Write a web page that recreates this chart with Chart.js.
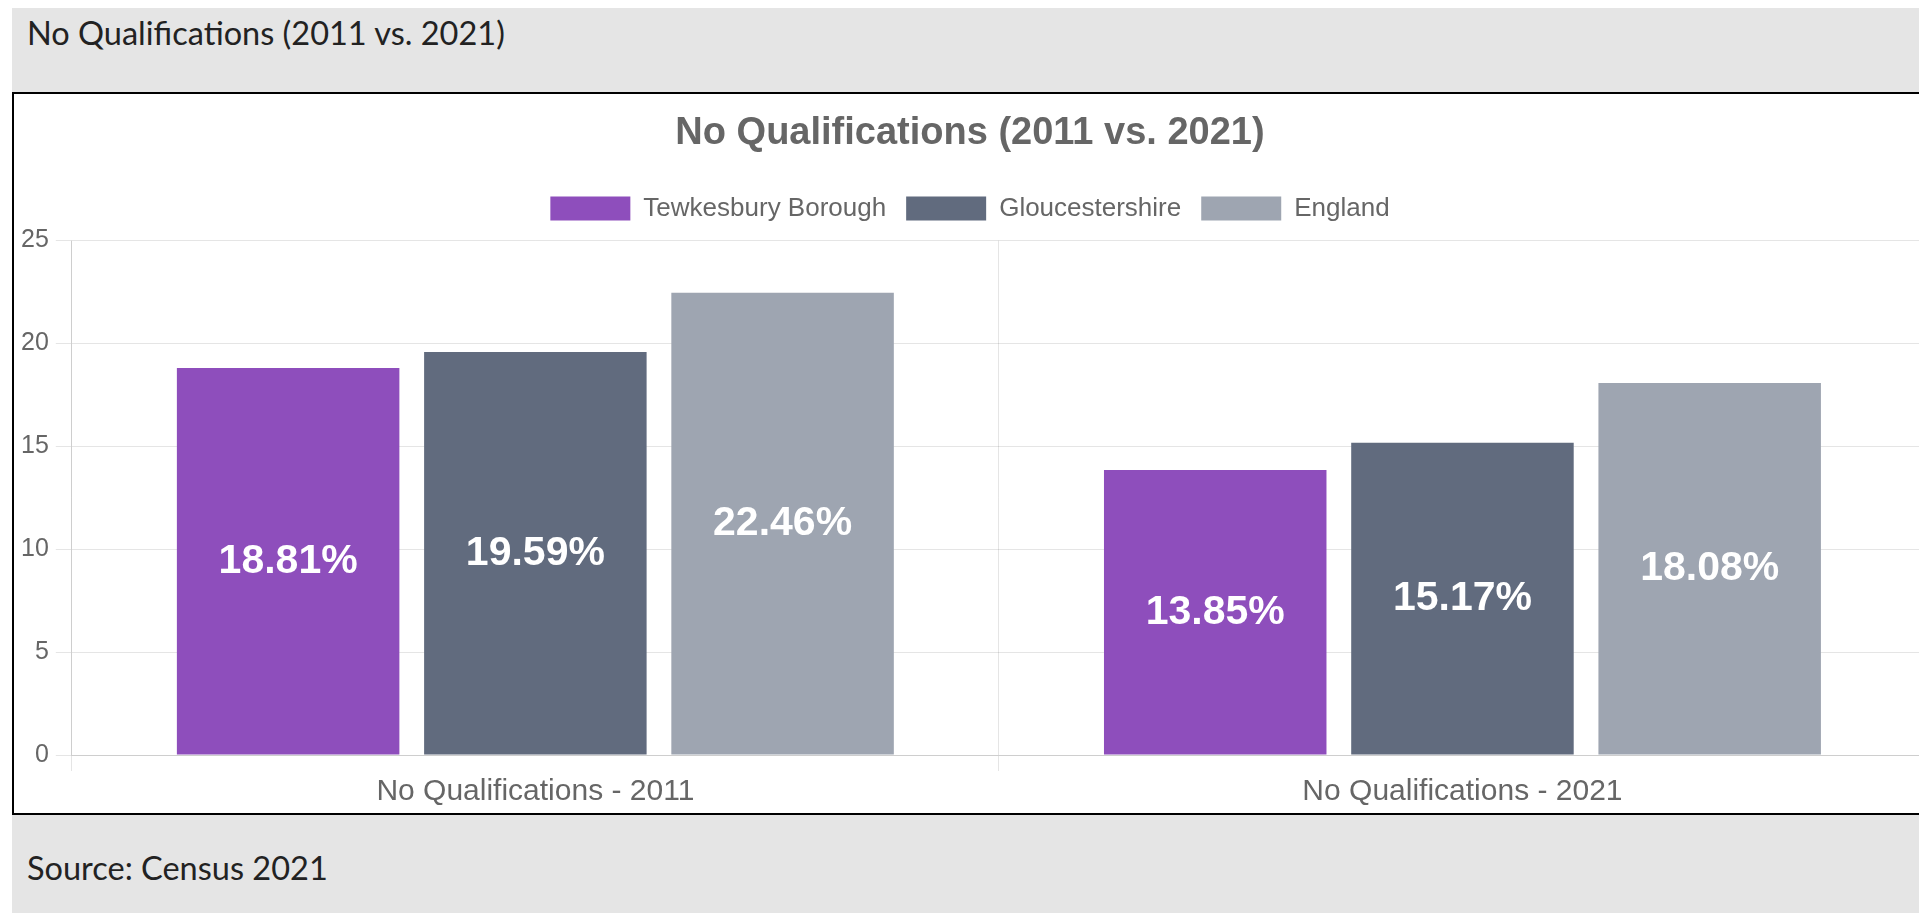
<!DOCTYPE html>
<html>
<head>
<meta charset="utf-8">
<script src="https://cdn.jsdelivr.net/npm/chart.js@4.4.1/dist/chart.umd.min.js"></script>
<style>
html,body{margin:0;padding:0;background:#fff;overflow:hidden;width:1919px;height:917px}
.panel{position:absolute;left:12px;top:8px;width:1940px;height:905px;background:#e5e5e5}
.head{position:absolute;left:15px;top:7px;font-family:Lato,"Noto Sans",sans-serif;font-size:32.5px;color:#222;line-height:36px}
.foot{position:absolute;left:15px;top:842px;font-family:Lato,"Noto Sans",sans-serif;font-size:32.5px;color:#222;line-height:36px}
.box{position:absolute;left:0;top:84px;width:1912px;height:719px;border:2px solid #000;background:#fff}
.wrap{position:relative;width:1912px;height:719px}
</style>
</head>
<body>
<div class="panel">
  <div class="head">No Qualifications (2011 vs. 2021)</div>
  <div class="box"><div class="wrap"><canvas id="c"></canvas></div></div>
  <div class="foot">Source: Census 2021</div>
</div>
<script>
const chartTitle = 'No Qualifications (2011 vs. 2021)';
const categories = ['No Qualifications - 2011', 'No Qualifications - 2021'];
const seriesNames = ['Tewkesbury Borough', 'Gloucestershire', 'England'];
const tewkesbury = [18.81, 13.85];
const gloucestershire = [19.59, 15.17];
const england = [22.46, 18.08];
const yTicks = [0, 5, 10, 15, 20, 25];

const colors = ['#8e4ebc', '#616b7e', '#9ea5b1'];
const FONT = '"Liberation Sans", Arial, Helvetica, sans-serif';

const valueLabels = {
  id: 'valueLabels',
  afterDatasetsDraw(chart) {
    const ctx = chart.ctx;
    ctx.save();
    ctx.font = 'bold 41px ' + FONT;
    ctx.fillStyle = '#ffffff';
    ctx.textAlign = 'center';
    ctx.textBaseline = 'middle';
    chart.data.datasets.forEach((ds, i) => {
      chart.getDatasetMeta(i).data.forEach((bar, j) => {
        ctx.fillText(ds.data[j].toFixed(2) + '%', bar.x, (bar.y + bar.base) / 2);
      });
    });
    ctx.restore();
  }
};

const legendMargin = {
  id: 'legendMargin',
  beforeInit(chart) {
    const lg = chart.legend;
    if (!lg) return;
    const fit = lg.fit;
    lg.fit = function () { fit.call(this); this.height += 9; };
  }
};

new Chart(document.getElementById('c'), {
  type: 'bar',
  data: {
    labels: categories,
    datasets: [tewkesbury, gloucestershire, england].map((d, i) => ({
      label: seriesNames[i],
      data: d,
      backgroundColor: colors[i],
      borderWidth: 0,
      categoryPercentage: 0.8,
      barPercentage: 0.9
    }))
  },
  options: {
    responsive: true,
    maintainAspectRatio: false,
    animation: false,
    layout: { padding: { left: 0, right: 0, top: 0, bottom: 0 } },
    plugins: {
      title: {
        display: true,
        text: chartTitle,
        color: '#666',
        font: { family: FONT, size: 38, weight: 'bold' },
        padding: { top: 16.5, bottom: 19.5 }
      },
      legend: {
        position: 'top',
        labels: {
          color: '#666',
          font: { family: FONT, size: 26 },
          boxWidth: 80,
          boxHeight: 24,
          padding: 20
        }
      },
      tooltip: { enabled: false }
    },
    scales: {
      x: {
        grid: { color: 'rgba(0,0,0,0.1)', tickLength: 16, offset: true },
        border: { color: 'rgba(0,0,0,0.1)' },
        ticks: { color: '#666', font: { family: FONT, size: 30 }, padding: 3 }
      },
      y: {
        min: yTicks[0],
        max: yTicks[yTicks.length - 1],
        afterBuildTicks: (axis) => { axis.ticks = yTicks.map(v => ({ value: v })); },
        grid: { color: 'rgba(0,0,0,0.1)', tickLength: 16 },
        border: { color: 'rgba(0,0,0,0.1)' },
        ticks: { color: '#666', font: { family: FONT, size: 25 }, padding: 7 }
      }
    }
  },
  plugins: [valueLabels, legendMargin]
});
</script>
</body>
</html>
